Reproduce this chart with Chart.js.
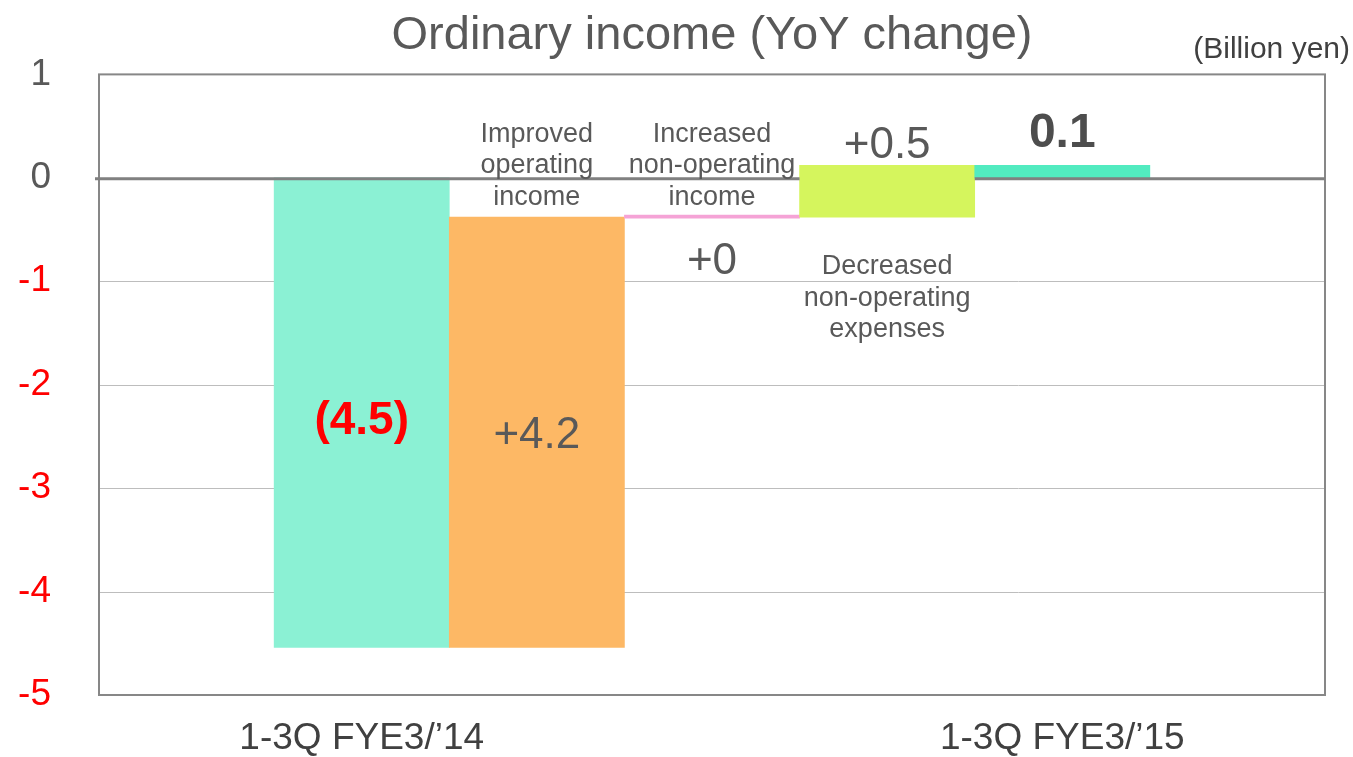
<!DOCTYPE html>
<html>
<head>
<meta charset="utf-8">
<script src="https://cdn.jsdelivr.net/npm/chart.js@4"></script>
<style>
  body { margin: 0; background: #fff; }
  #wrap { width: 1353px; height: 757px; }
</style>
</head>
<body>
<div id="wrap"><canvas id="myChart"></canvas></div>
<script>
// categories (first and last slot are empty, like the original slide)
const categories = ["", "1-3Q FYE3/\u201914", "", "", "", "1-3Q FYE3/\u201915", ""];
// waterfall bars: where each bar starts and ends (billion yen)
const barStart = [null, 0, -4.54, -0.36, -0.38, 0, null];
const barEnd = [null, -4.54, -0.38, -0.39, 0.12, 0.12, null];
const barColors = ["#fff", "#8BF1D4", "#FDB865", "#F5A3D6", "#D5F55D", "#52EBC0", "#fff"];
// value labels on the bars
const valueLabels = ["", "(4.5)", "+4.2", "+0", "+0.5", "0.1", ""];
// explanation labels
const noteLabels = [
  ["Improved", "operating", "income"],
  ["Increased", "non-operating", "income"],
  ["Decreased", "non-operating", "expenses"],
];
const yTicks = [1, 0, -1, -2, -3, -4, -5];

const FONT = "'Liberation Sans', Arial, sans-serif";
const GREY_TEXT = "#595959";

const canvas = document.getElementById("myChart");
const ctx = canvas.getContext("2d");

// where the labels sit: [slot, y value]
const valuePos = [null, [1, -2.35], [2, -2.49], [3, -0.81], [4, 0.31], [5, 0.43], null];
const valueStyle = [
  null,
  { color: "#FF0000", font: "bold 46px " + FONT },
  { color: GREY_TEXT, font: "44px " + FONT },
  { color: GREY_TEXT, font: "44px " + FONT },
  { color: GREY_TEXT, font: "44px " + FONT },
  { color: "#4D4D4D", font: "bold 48px " + FONT },
  null,
];
const notePos = [[2, 0.42], [3, 0.42], [4, -0.86]];

const drawExtras = {
  id: "drawExtras",
  beforeDatasetsDraw(chart) {
    const c = chart.ctx;
    const a = chart.chartArea;
    const y = chart.scales.y;
    // light grid lines
    c.save();
    c.strokeStyle = "#BDBDBD";
    c.lineWidth = 1;
    yTicks.forEach((v) => {
      if (v === 0 || v === 1 || v === -5) return;
      const py = Math.round(y.getPixelForValue(v)) + 0.5;
      c.beginPath();
      c.moveTo(a.left, py);
      c.lineTo(a.right, py);
      c.stroke();
    });
    c.restore();
  },
  afterDatasetsDraw(chart) {
    const c = chart.ctx;
    const a = chart.chartArea;
    const x = chart.scales.x;
    const y = chart.scales.y;
    const meta = chart.getDatasetMeta(0);

    // frame
    c.save();
    c.strokeStyle = "#878787";
    c.lineWidth = 2;
    c.strokeRect(a.left, a.top, a.right - a.left, a.bottom - a.top);

    // zero line, hidden behind the bar that crosses zero
    const bar = meta.data[4];
    const bx0 = bar.x - bar.width / 2;
    const bx1 = bar.x + bar.width / 2;
    const zy = y.getPixelForValue(0) + 1;
    c.strokeStyle = "#808080";
    c.lineWidth = 3;
    c.beginPath();
    c.moveTo(a.left - 4, zy);
    c.lineTo(bx0, zy);
    c.moveTo(bx1, zy);
    c.lineTo(a.right, zy);
    c.stroke();

    // value labels
    c.textAlign = "center";
    c.textBaseline = "middle";
    valueLabels.forEach((txt, i) => {
      if (!txt) return;
      c.fillStyle = valueStyle[i].color;
      c.font = valueStyle[i].font;
      c.fillText(txt, x.getPixelForValue(valuePos[i][0]), y.getPixelForValue(valuePos[i][1]));
    });

    // notes
    c.fillStyle = GREY_TEXT;
    c.font = "27px " + FONT;
    noteLabels.forEach((lines, i) => {
      const px = x.getPixelForValue(notePos[i][0]);
      const py = y.getPixelForValue(notePos[i][1]);
      lines.forEach((line, j) => c.fillText(line, px, py + j * 31.5));
    });

    // unit
    c.fillStyle = "#404040";
    c.font = "30px " + FONT;
    c.textAlign = "right";
    c.fillText("(Billion yen)", 1350, 50);
    c.restore();
  },
};

const chartInstance = new Chart(ctx, {
  type: "bar",
  data: {
    labels: categories,
    datasets: [
      {
        data: barStart.map((s, i) => (s === null ? null : [s, barEnd[i]])),
        backgroundColor: barColors,
        borderWidth: 0,
        barPercentage: 1,
        categoryPercentage: 1,
      },
    ],
  },
  options: {
    responsive: true,
    maintainAspectRatio: false,
    animation: false,
    layout: { padding: { left: 18, right: 28, top: 0, bottom: 0 } },
    scales: {
      x: {
        grid: { display: false, drawTicks: false },
        border: { display: false },
        afterFit: (scale) => {
          scale.height = 62;
        },
        ticks: {
          color: "#404040",
          font: { family: FONT, size: 37 },
          padding: 22,
          maxRotation: 0,
          autoSkip: false,
        },
      },
      y: {
        min: -5,
        max: 1,
        grid: { display: false, drawTicks: false },
        border: { display: false },
        afterFit: (scale) => {
          scale.width = 81;
          scale.paddingTop = 0;
          scale.paddingBottom = 0;
        },
        ticks: {
          stepSize: 1,
          padding: 48,
          font: { family: FONT, size: 37 },
          color: (context) => (context.tick.value < 0 ? "#FF0000" : GREY_TEXT),
        },
      },
    },
    plugins: {
      legend: { display: false },
      tooltip: { enabled: false },
      title: {
        display: true,
        text: "Ordinary income (YoY change)",
        color: GREY_TEXT,
        fullSize: false,
        font: { family: FONT, size: 47, weight: "normal" },
        padding: { top: 8, bottom: 10 },
      },
    },
  },
  plugins: [drawExtras],
});
</script>
</body>
</html>
